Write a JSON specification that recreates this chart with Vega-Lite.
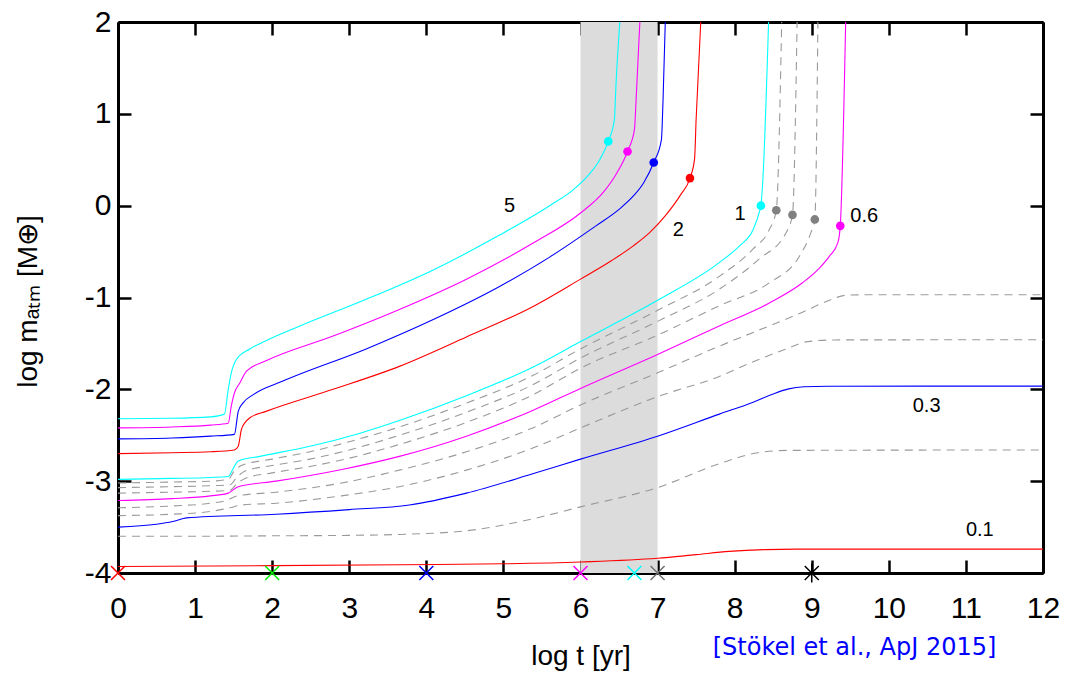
{
  "$schema": "https://vega.github.io/schema/vega-lite/v6.json",
  "width": 925,
  "height": 551,
  "autosize": {"type": "none"},
  "padding": {"left": 118, "top": 22, "right": 24, "bottom": 104},
  "background": "white",
  "config": {
    "view": {"stroke": null},
    "font": "Liberation Sans",
    "axis": {
      "grid": false,
      "domainColor": "black",
      "domainWidth": 3,
      "tickColor": "black",
      "tickWidth": 2.5,
      "tickSize": -13,
      "labelFlush": false,
      "labelFont": "Liberation Sans",
      "labelFontSize": 30,
      "labelColor": "black",
      "titleFont": "Liberation Sans",
      "titleFontSize": 28,
      "titleFontWeight": "normal",
      "titleColor": "black",
      "zindex": 1
    }
  },
  "datasets": {
    "solid": [
      {"M":"5","x":0,"y":-2.32},{"M":"5","x":0.7,"y":-2.315},{"M":"5","x":1.2,"y":-2.3},{"M":"5","x":1.38,"y":-2.27},{"M":"5","x":1.43,"y":-2.0},{"M":"5","x":1.47,"y":-1.82},{"M":"5","x":1.54,"y":-1.67},{"M":"5","x":1.71,"y":-1.56},{"M":"5","x":1.92,"y":-1.47},{"M":"5","x":2.36,"y":-1.31},{"M":"5","x":3.22,"y":-1.02},{"M":"5","x":4.09,"y":-0.7},{"M":"5","x":4.95,"y":-0.32},{"M":"5","x":5.6,"y":0.0},{"M":"5","x":5.9,"y":0.17},{"M":"5","x":6.1,"y":0.33},{"M":"5","x":6.25,"y":0.5},{"M":"5","x":6.36,"y":0.7},{"M":"5","x":6.44,"y":0.94},{"M":"5","x":6.46,"y":1.31},{"M":"5","x":6.51,"y":2.0},
      {"M":"4","x":0,"y":-2.42},{"M":"4","x":0.7,"y":-2.41},{"M":"4","x":1.2,"y":-2.39},{"M":"4","x":1.43,"y":-2.37},{"M":"4","x":1.47,"y":-2.18},{"M":"4","x":1.51,"y":-2.04},{"M":"4","x":1.58,"y":-1.93},{"M":"4","x":1.67,"y":-1.8},{"M":"4","x":1.92,"y":-1.69},{"M":"4","x":2.79,"y":-1.42},{"M":"4","x":3.65,"y":-1.13},{"M":"4","x":4.52,"y":-0.8},{"M":"4","x":5.38,"y":-0.41},{"M":"4","x":6.0,"y":-0.08},{"M":"4","x":6.3,"y":0.15},{"M":"4","x":6.46,"y":0.34},{"M":"4","x":6.61,"y":0.59},{"M":"4","x":6.7,"y":0.83},{"M":"4","x":6.72,"y":1.13},{"M":"4","x":6.77,"y":2.0},
      {"M":"3","x":0,"y":-2.54},{"M":"3","x":0.7,"y":-2.53},{"M":"3","x":1.2,"y":-2.51},{"M":"3","x":1.51,"y":-2.49},{"M":"3","x":1.56,"y":-2.24},{"M":"3","x":1.62,"y":-2.15},{"M":"3","x":1.75,"y":-2.06},{"M":"3","x":2.14,"y":-1.91},{"M":"3","x":3.22,"y":-1.56},{"M":"3","x":4.09,"y":-1.24},{"M":"3","x":4.95,"y":-0.88},{"M":"3","x":5.6,"y":-0.56},{"M":"3","x":6.2,"y":-0.22},{"M":"3","x":6.5,"y":-0.04},{"M":"3","x":6.68,"y":0.1},{"M":"3","x":6.82,"y":0.25},{"M":"3","x":6.95,"y":0.47},{"M":"3","x":7.05,"y":0.72},{"M":"3","x":7.07,"y":1.13},{"M":"3","x":7.1,"y":2.0},
      {"M":"2","x":0,"y":-2.7},{"M":"2","x":0.7,"y":-2.69},{"M":"2","x":1.2,"y":-2.68},{"M":"2","x":1.51,"y":-2.66},{"M":"2","x":1.56,"y":-2.62},{"M":"2","x":1.6,"y":-2.44},{"M":"2","x":1.65,"y":-2.36},{"M":"2","x":1.71,"y":-2.31},{"M":"2","x":1.92,"y":-2.24},{"M":"2","x":2.79,"y":-2.0},{"M":"2","x":3.65,"y":-1.75},{"M":"2","x":4.52,"y":-1.43},{"M":"2","x":5.38,"y":-1.1},{"M":"2","x":6.0,"y":-0.8},{"M":"2","x":6.4,"y":-0.6},{"M":"2","x":6.68,"y":-0.44},{"M":"2","x":6.9,"y":-0.29},{"M":"2","x":7.11,"y":-0.1},{"M":"2","x":7.3,"y":0.12},{"M":"2","x":7.42,"y":0.3},{"M":"2","x":7.48,"y":0.51},{"M":"2","x":7.5,"y":0.94},{"M":"2","x":7.56,"y":2.0},
      {"M":"1","x":0,"y":-2.98},{"M":"1","x":0.7,"y":-2.97},{"M":"1","x":1.2,"y":-2.96},{"M":"1","x":1.43,"y":-2.95},{"M":"1","x":1.49,"y":-2.87},{"M":"1","x":1.56,"y":-2.78},{"M":"1","x":1.84,"y":-2.73},{"M":"1","x":2.49,"y":-2.62},{"M":"1","x":3.13,"y":-2.48},{"M":"1","x":3.65,"y":-2.34},{"M":"1","x":4.52,"y":-2.07},{"M":"1","x":5.38,"y":-1.76},{"M":"1","x":6.0,"y":-1.48},{"M":"1","x":7.0,"y":-1.03},{"M":"1","x":7.8,"y":-0.62},{"M":"1","x":8.06,"y":-0.44},{"M":"1","x":8.24,"y":-0.26},{"M":"1","x":8.32,"y":-0.07},{"M":"1","x":8.34,"y":0.0},{"M":"1","x":8.36,"y":0.2},{"M":"1","x":8.44,"y":2.0},
      {"M":"0.6","x":0,"y":-3.21},{"M":"0.6","x":0.7,"y":-3.19},{"M":"0.6","x":1.2,"y":-3.16},{"M":"0.6","x":1.43,"y":-3.13},{"M":"0.6","x":1.56,"y":-3.06},{"M":"0.6","x":2.05,"y":-3.0},{"M":"0.6","x":2.92,"y":-2.87},{"M":"0.6","x":3.65,"y":-2.73},{"M":"0.6","x":4.52,"y":-2.51},{"M":"0.6","x":5.38,"y":-2.23},{"M":"0.6","x":6.0,"y":-1.99},{"M":"0.6","x":7.0,"y":-1.62},{"M":"0.6","x":7.8,"y":-1.31},{"M":"0.6","x":8.45,"y":-1.06},{"M":"0.6","x":8.88,"y":-0.84},{"M":"0.6","x":9.1,"y":-0.68},{"M":"0.6","x":9.23,"y":-0.55},{"M":"0.6","x":9.34,"y":-0.4},{"M":"0.6","x":9.37,"y":-0.22},{"M":"0.6","x":9.44,"y":2.0},
      {"M":"0.3","x":0,"y":-3.5},{"M":"0.3","x":0.5,"y":-3.47},{"M":"0.3","x":0.71,"y":-3.44},{"M":"0.3","x":0.89,"y":-3.4},{"M":"0.3","x":2.05,"y":-3.36},{"M":"0.3","x":3.0,"y":-3.31},{"M":"0.3","x":3.78,"y":-3.26},{"M":"0.3","x":4.52,"y":-3.13},{"M":"0.3","x":5.38,"y":-2.92},{"M":"0.3","x":6.0,"y":-2.76},{"M":"0.3","x":7.0,"y":-2.51},{"M":"0.3","x":7.8,"y":-2.27},{"M":"0.3","x":8.24,"y":-2.14},{"M":"0.3","x":8.5,"y":-2.05},{"M":"0.3","x":8.7,"y":-1.995},{"M":"0.3","x":8.9,"y":-1.972},{"M":"0.3","x":9.2,"y":-1.966},{"M":"0.3","x":12,"y":-1.965},
      {"M":"0.1","x":0,"y":-3.93},{"M":"0.1","x":2,"y":-3.92},{"M":"0.1","x":3.65,"y":-3.91},{"M":"0.1","x":5,"y":-3.9},{"M":"0.1","x":6,"y":-3.88},{"M":"0.1","x":7,"y":-3.84},{"M":"0.1","x":7.5,"y":-3.8},{"M":"0.1","x":7.93,"y":-3.765},{"M":"0.1","x":8.4,"y":-3.745},{"M":"0.1","x":8.8,"y":-3.74},{"M":"0.1","x":12,"y":-3.74}
    ],
    "dashed": [
      {"M":"0.9","x":0,"y":-3.02},{"M":"0.9","x":0.7,"y":-3.01},{"M":"0.9","x":1.2,"y":-3.0},{"M":"0.9","x":1.43,"y":-2.98},{"M":"0.9","x":1.5,"y":-2.9},{"M":"0.9","x":1.6,"y":-2.83},{"M":"0.9","x":2.0,"y":-2.76},{"M":"0.9","x":2.49,"y":-2.68},{"M":"0.9","x":3.0,"y":-2.57},{"M":"0.9","x":3.65,"y":-2.41},{"M":"0.9","x":4.52,"y":-2.15},{"M":"0.9","x":5.38,"y":-1.85},{"M":"0.9","x":6.0,"y":-1.56},{"M":"0.9","x":7.0,"y":-1.14},{"M":"0.9","x":7.8,"y":-0.77},{"M":"0.9","x":8.24,"y":-0.47},{"M":"0.9","x":8.45,"y":-0.26},{"M":"0.9","x":8.54,"y":-0.05},{"M":"0.9","x":8.61,"y":2.0},
      {"M":"0.8","x":0,"y":-3.07},{"M":"0.8","x":0.7,"y":-3.06},{"M":"0.8","x":1.2,"y":-3.05},{"M":"0.8","x":1.45,"y":-3.04},{"M":"0.8","x":1.55,"y":-2.95},{"M":"0.8","x":1.65,"y":-2.89},{"M":"0.8","x":2.0,"y":-2.83},{"M":"0.8","x":2.49,"y":-2.76},{"M":"0.8","x":3.0,"y":-2.66},{"M":"0.8","x":3.65,"y":-2.5},{"M":"0.8","x":4.52,"y":-2.25},{"M":"0.8","x":5.38,"y":-1.95},{"M":"0.8","x":6.0,"y":-1.66},{"M":"0.8","x":7.0,"y":-1.26},{"M":"0.8","x":7.8,"y":-0.91},{"M":"0.8","x":8.32,"y":-0.58},{"M":"0.8","x":8.67,"y":-0.29},{"M":"0.8","x":8.75,"y":-0.1},{"M":"0.8","x":8.81,"y":2.0},
      {"M":"0.7","x":0,"y":-3.13},{"M":"0.7","x":0.7,"y":-3.12},{"M":"0.7","x":1.2,"y":-3.11},{"M":"0.7","x":1.45,"y":-3.1},{"M":"0.7","x":1.55,"y":-3.02},{"M":"0.7","x":1.65,"y":-2.97},{"M":"0.7","x":2.0,"y":-2.91},{"M":"0.7","x":2.49,"y":-2.84},{"M":"0.7","x":3.0,"y":-2.75},{"M":"0.7","x":3.65,"y":-2.6},{"M":"0.7","x":4.52,"y":-2.36},{"M":"0.7","x":5.38,"y":-2.06},{"M":"0.7","x":6.0,"y":-1.77},{"M":"0.7","x":7.0,"y":-1.41},{"M":"0.7","x":7.8,"y":-1.09},{"M":"0.7","x":8.45,"y":-0.84},{"M":"0.7","x":8.84,"y":-0.55},{"M":"0.7","x":8.99,"y":-0.29},{"M":"0.7","x":9.04,"y":-0.15},{"M":"0.7","x":9.08,"y":2.0},
      {"M":"0.5","x":0,"y":-3.29},{"M":"0.5","x":0.7,"y":-3.27},{"M":"0.5","x":1.2,"y":-3.24},{"M":"0.5","x":1.41,"y":-3.21},{"M":"0.5","x":1.55,"y":-3.16},{"M":"0.5","x":2.05,"y":-3.12},{"M":"0.5","x":2.9,"y":-3.02},{"M":"0.5","x":3.65,"y":-2.88},{"M":"0.5","x":4.52,"y":-2.68},{"M":"0.5","x":5.38,"y":-2.42},{"M":"0.5","x":6.0,"y":-2.17},{"M":"0.5","x":7.0,"y":-1.82},{"M":"0.5","x":7.8,"y":-1.53},{"M":"0.5","x":8.24,"y":-1.38},{"M":"0.5","x":8.88,"y":-1.16},{"M":"0.5","x":9.2,"y":-1.04},{"M":"0.5","x":9.45,"y":-0.975},{"M":"0.5","x":9.8,"y":-0.97},{"M":"0.5","x":12,"y":-0.97},
      {"M":"0.4","x":0,"y":-3.375},{"M":"0.4","x":0.7,"y":-3.36},{"M":"0.4","x":1.2,"y":-3.33},{"M":"0.4","x":1.45,"y":-3.29},{"M":"0.4","x":1.6,"y":-3.26},{"M":"0.4","x":2.05,"y":-3.24},{"M":"0.4","x":2.9,"y":-3.16},{"M":"0.4","x":3.65,"y":-3.06},{"M":"0.4","x":4.52,"y":-2.88},{"M":"0.4","x":5.38,"y":-2.64},{"M":"0.4","x":6.0,"y":-2.42},{"M":"0.4","x":7.0,"y":-2.08},{"M":"0.4","x":7.8,"y":-1.86},{"M":"0.4","x":8.24,"y":-1.7},{"M":"0.4","x":8.67,"y":-1.56},{"M":"0.4","x":8.95,"y":-1.48},{"M":"0.4","x":9.3,"y":-1.462},{"M":"0.4","x":12,"y":-1.46},
      {"M":"0.2","x":0,"y":-3.6},{"M":"0.2","x":1,"y":-3.6},{"M":"0.2","x":2,"y":-3.595},{"M":"0.2","x":3,"y":-3.59},{"M":"0.2","x":3.65,"y":-3.58},{"M":"0.2","x":4.52,"y":-3.54},{"M":"0.2","x":5.38,"y":-3.41},{"M":"0.2","x":6.0,"y":-3.28},{"M":"0.2","x":7.0,"y":-3.07},{"M":"0.2","x":7.8,"y":-2.81},{"M":"0.2","x":8.3,"y":-2.69},{"M":"0.2","x":8.7,"y":-2.665},{"M":"0.2","x":12,"y":-2.66}
    ],
    "dots": [
      {"M":"5","x":6.36,"y":0.7},{"M":"4","x":6.61,"y":0.59},{"M":"3","x":6.95,"y":0.47},{"M":"2","x":7.42,"y":0.3},
      {"M":"1","x":8.34,"y":0.0},{"M":"0.9","x":8.54,"y":-0.05},{"M":"0.8","x":8.75,"y":-0.1},{"M":"0.7","x":9.04,"y":-0.15},{"M":"0.6","x":9.37,"y":-0.22}
    ],
    "starts": [
      {"id":"a","x":0,"y":-4},{"id":"b","x":2,"y":-4},{"id":"c","x":4,"y":-4},{"id":"d","x":6,"y":-4},{"id":"e","x":6.7,"y":-4},{"id":"f","x":7,"y":-4},{"id":"g","x":9,"y":-4}
    ],
    "labels": [
      {"x":5.08,"y":0.0,"text":"5"},{"x":7.27,"y":-0.26,"text":"2"},{"x":8.07,"y":-0.09,"text":"1"},{"x":9.68,"y":-0.11,"text":"0.6"},{"x":10.49,"y":-2.18,"text":"0.3"},{"x":11.18,"y":-3.53,"text":"0.1"}
    ],
    "band": [{"x0":6,"x1":7,"y0":-4,"y1":2}],
    "source": [{"x":9.555,"y":-4.89,"text":"[Stökel et al., ApJ 2015]"}]
  },
  "resolve": {"axis": {"x": "independent", "y": "independent"}, "scale": {"color": "independent"}},
  "layer": [
    {
      "data": {"name": "band"},
      "mark": {"type": "rect", "color": "#dcdcdc"},
      "encoding": {
        "x": {"field": "x0", "type": "quantitative", "scale": {"domain": [0, 12], "nice": false, "zero": false},
              "axis": {"orient": "bottom", "values": [0,1,2,3,4,5,6,7,8,9,10,11,12], "labelExpr": "'' + datum.value", "labelBaseline": "alphabetic", "labelPadding": 57, "title": "log t [yr]", "titleBaseline": "alphabetic", "titleY": 91}},
        "x2": {"field": "x1"},
        "y": {"field": "y0", "type": "quantitative", "scale": {"domain": [-4, 2], "nice": false, "zero": false},
              "axis": {"orient": "left", "values": [-4,-3,-2,-1,0,1,2], "labelExpr": "'' + datum.value", "labelPadding": 20, "labelBaseline": "middle", "title": "log mₐₜₘ [M⊕]", "titleX": -76, "titleY": 279}},
        "y2": {"field": "y1"}
      }
    },
    {
      "data": {"name": "band"},
      "mark": {"type": "rect", "opacity": 0},
      "encoding": {
        "x": {"field": "x0", "type": "quantitative", "scale": {"domain": [0, 12], "nice": false, "zero": false},
              "axis": {"orient": "top", "values": [0,1,2,3,4,5,6,7,8,9,10,11,12], "labels": false, "title": null}},
        "x2": {"field": "x1"},
        "y": {"field": "y0", "type": "quantitative", "scale": {"domain": [-4, 2], "nice": false, "zero": false},
              "axis": {"orient": "right", "values": [-4,-3,-2,-1,0,1,2], "labels": false, "title": null}},
        "y2": {"field": "y1"}
      }
    },
    {
      "data": {"name": "dashed"},
      "mark": {"type": "line", "color": "#9a9a9a", "strokeWidth": 1.1, "strokeDash": [8, 6], "interpolate": "monotone"},
      "encoding": {
        "x": {"field": "x", "type": "quantitative", "scale": {"domain": [0, 12], "nice": false, "zero": false}, "axis": null},
        "y": {"field": "y", "type": "quantitative", "scale": {"domain": [-4, 2], "nice": false, "zero": false}, "axis": null},
        "detail": {"field": "M", "type": "nominal"}
      }
    },
    {
      "data": {"name": "solid"},
      "mark": {"type": "line", "strokeWidth": 1.1, "interpolate": "monotone"},
      "encoding": {
        "x": {"field": "x", "type": "quantitative", "scale": {"domain": [0, 12], "nice": false, "zero": false}, "axis": null},
        "y": {"field": "y", "type": "quantitative", "scale": {"domain": [-4, 2], "nice": false, "zero": false}, "axis": null},
        "color": {"field": "M", "type": "nominal", "legend": null,
                  "scale": {"domain": ["5","4","3","2","1","0.6","0.3","0.1"],
                            "range": ["#00ffff","#ff00ff","#0000ff","#ff0000","#00ffff","#ff00ff","#0000ff","#ff0000"]}}
      }
    },
    {
      "data": {"name": "dots"},
      "mark": {"type": "circle", "size": 75, "opacity": 1},
      "encoding": {
        "x": {"field": "x", "type": "quantitative", "scale": {"domain": [0, 12], "nice": false, "zero": false}, "axis": null},
        "y": {"field": "y", "type": "quantitative", "scale": {"domain": [-4, 2], "nice": false, "zero": false}, "axis": null},
        "color": {"field": "M", "type": "nominal", "legend": null,
                  "scale": {"domain": ["5","4","3","2","1","0.9","0.8","0.7","0.6"],
                            "range": ["#00ffff","#ff00ff","#0000ff","#ff0000","#00ffff","#808080","#808080","#808080","#ff00ff"]}}
      }
    },
    {
      "data": {"name": "starts"},
      "transform": [{"filter": "datum.id != 'g'"}],
      "mark": {"type": "point", "shape": "M-1,-1L1,1M-1,1L1,-1", "size": 196, "filled": false, "strokeWidth": 1.5, "opacity": 1},
      "encoding": {
        "x": {"field": "x", "type": "quantitative", "scale": {"domain": [0, 12], "nice": false, "zero": false}, "axis": null},
        "y": {"field": "y", "type": "quantitative", "scale": {"domain": [-4, 2], "nice": false, "zero": false}, "axis": null},
        "color": {"field": "id", "type": "nominal", "legend": null,
                  "scale": {"domain": ["a","b","c","d","e","f"],
                            "range": ["#ff0000","#00ee00","#0000ff","#ff00ff","#00ffff","#707070"]}}
      }
    },
    {
      "data": {"name": "starts"},
      "transform": [{"filter": "datum.id == 'g'"}],
      "mark": {"type": "point", "shape": "M-1,-1L1,1M-1,1L1,-1M0,-1.35L0,1.35", "size": 196, "filled": false, "strokeWidth": 1.5, "color": "black", "opacity": 1},
      "encoding": {
        "x": {"field": "x", "type": "quantitative", "scale": {"domain": [0, 12], "nice": false, "zero": false}, "axis": null},
        "y": {"field": "y", "type": "quantitative", "scale": {"domain": [-4, 2], "nice": false, "zero": false}, "axis": null}
      }
    },
    {
      "data": {"name": "labels"},
      "mark": {"type": "text", "font": "Liberation Sans", "fontSize": 20, "color": "black", "align": "center", "baseline": "middle"},
      "encoding": {
        "x": {"field": "x", "type": "quantitative", "scale": {"domain": [0, 12], "nice": false, "zero": false}, "axis": null},
        "y": {"field": "y", "type": "quantitative", "scale": {"domain": [-4, 2], "nice": false, "zero": false}, "axis": null},
        "text": {"field": "text"}
      }
    },
    {
      "data": {"name": "source"},
      "mark": {"type": "text", "font": "DejaVu Sans", "fontSize": 24, "color": "#0000ff", "align": "center", "baseline": "alphabetic", "clip": false},
      "encoding": {
        "x": {"field": "x", "type": "quantitative", "scale": {"domain": [0, 12], "nice": false, "zero": false}, "axis": null},
        "y": {"field": "y", "type": "quantitative", "scale": {"domain": [-4, 2], "nice": false, "zero": false}, "axis": null},
        "text": {"field": "text"}
      }
    }
  ]
}
